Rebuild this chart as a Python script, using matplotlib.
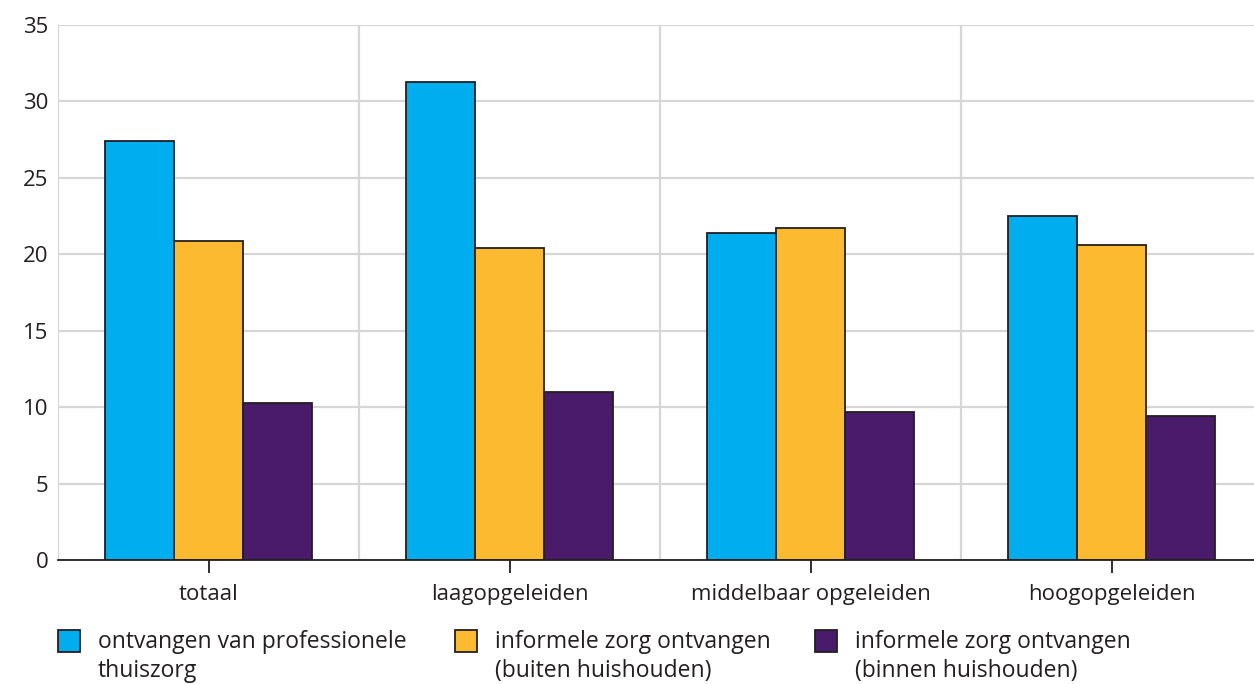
import numpy as np
import matplotlib.pyplot as plt
from matplotlib.patches import Rectangle

plt.rcParams['font.family'] = ['Open Sans', 'DejaVu Sans']

categories = ["totaal", "laagopgeleiden", "middelbaar opgeleiden", "hoogopgeleiden"]
series_names = ["ontvangen van professionele\nthuiszorg",
                "informele zorg ontvangen\n(buiten huishouden)",
                "informele zorg ontvangen\n(binnen huishouden)"]
professioneel = [27.4, 31.3, 21.4, 22.5]
buiten = [20.9, 20.4, 21.7, 20.6]
binnen = [10.3, 11.0, 9.7, 9.4]
colors = ["#00AEEF", "#FBBA30", "#4A1A6B"]

W, H = 1254, 684
fig = plt.figure(figsize=(W / 100, H / 100), dpi=100)
ax = fig.add_axes([58 / W, 1 - 560 / H, (W - 58) / W, (560 - 25) / H])

x = np.arange(len(categories))
bw = 0.229
for i, vals in enumerate([professioneel, buiten, binnen]):
    ax.bar(x + (i - 1) * bw, vals, bw, color=colors[i], edgecolor="#231F20",
           linewidth=1.3, zorder=3)

ax.set_yticks(np.arange(0, 36, 5))
ax.set_xticks(x)
ax.set_xticklabels(categories)
ax.set_xticks(np.arange(-0.5, 3, 1), minor=True)
ax.set_ylim(0, 35)
ax.set_xlim(-0.5, -0.5 + (W - 58) / 301)
ax.grid(axis='y', color="#D6D6D6", linewidth=1.6, zorder=0)
ax.grid(axis='x', which='minor', color="#D6D6D6", linewidth=1.6, zorder=0)
ax.grid(axis='x', which='major', visible=False)
for s in ['top', 'right', 'left']:
    ax.spines[s].set_visible(False)
ax.spines['bottom'].set_color("#231F20")
ax.spines['bottom'].set_linewidth(1.3)
ax.spines['bottom'].set_zorder(4)
ax.tick_params(axis='y', length=0, pad=7, labelsize=16, colors="#231F20")
ax.tick_params(axis='x', which='major', length=9, width=1.3, color="#231F20",
               labelsize=16, labelcolor="#231F20", pad=8)
ax.tick_params(axis='x', which='minor', length=0)

# legend
leg_x = [58, 455, 815]
for i, name in enumerate(series_names):
    fig.add_artist(Rectangle((leg_x[i] / W, 1 - 652 / H), 22 / W, 22 / H,
                             facecolor=colors[i], edgecolor="#231F20",
                             linewidth=1.3, transform=fig.transFigure))
    fig.text((leg_x[i] + 40) / W, 1 - 630 / H, name, fontsize=16.5,
             color="#231F20", va='top', ha='left', linespacing=1.27)

fig.savefig("out.png", dpi=100)
